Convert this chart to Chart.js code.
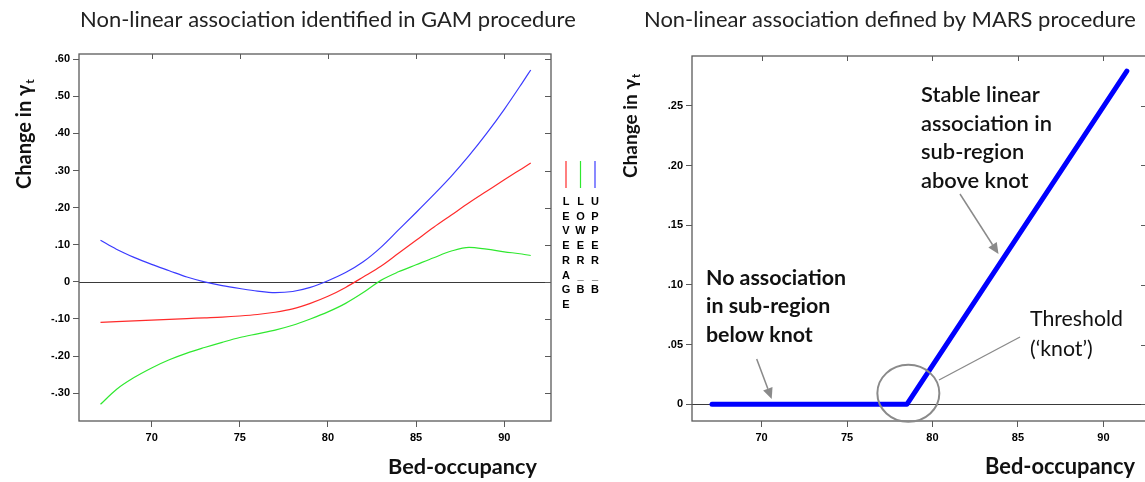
<!DOCTYPE html>
<html><head><meta charset="utf-8">
<script src="https://cdn.jsdelivr.net/npm/chart.js@4.4.1/dist/chart.umd.min.js"></script>
<style>
html,body{margin:0;padding:0;background:#fff;overflow:hidden;width:1145px;height:482px;position:relative}
#c1{position:absolute;left:0;top:0}
#c2{position:absolute;left:615px;top:0}
</style></head><body>
<canvas id="c1" width="615" height="482"></canvas>
<canvas id="c2" width="540" height="482"></canvas>
<script>
// ---------- data ----------
const bedOccupancy = [67.1,68,69,70,71,72,73,74,75,76,77,78,79,80,81,82,83,84,85,86,87,88,89,90,91,91.5];
const leverage = [-0.109,-0.107,-0.105,-0.103,-0.101,-0.099,-0.097,-0.095,-0.092,-0.088,-0.082,-0.073,-0.058,-0.039,-0.015,0.013,0.042,0.077,0.112,0.147,0.180,0.213,0.244,0.275,0.305,0.320];
const lowerB = [-0.330,-0.290,-0.258,-0.232,-0.210,-0.192,-0.177,-0.163,-0.150,-0.140,-0.130,-0.117,-0.100,-0.081,-0.058,-0.029,0.004,0.027,0.046,0.065,0.083,0.093,0.088,0.081,0.075,0.071];
const upperB = [0.112,0.088,0.066,0.047,0.030,0.013,0.000,-0.010,-0.018,-0.025,-0.029,-0.026,-0.015,0.003,0.025,0.054,0.093,0.140,0.187,0.235,0.285,0.340,0.400,0.465,0.535,0.571];
const gamXTicks = [70,75,80,85,90];
const gamYTicks = [-0.3,-0.2,-0.1,0,0.1,0.2,0.3,0.4,0.5,0.6];
const gamYLabels = ['-.30','-.20','-.10','0','.10','.20','.30','.40','.50','.60'];
const legendNames = ['LEVERAGE','LOWER_B','UPPER_B'];

const marsX = [67.1,78.5,91.37];
const marsY = [0,0,0.279];
const marsXTicks = [70,75,80,85,90];
const marsYTicks = [0,0.05,0.1,0.15,0.2,0.25];
const marsYLabels = ['0','.05','.10','.15','.20','.25'];

const titles = ['Non-linear association identified in GAM procedure','Non-linear association defined by MARS procedure'];
const xTitle = 'Bed-occupancy';
const yTitle = 'Change in \u03B3';
const ySub = 't';
const noteBelow = ['No association','in sub-region','below knot'];
const noteAbove = ['Stable linear','association in','sub-region','above knot'];
const noteKnot = ['Threshold','(\u2018knot\u2019)'];

// ---------- style ----------
const TICKFONT = "'Liberation Sans Narrow','Liberation Sans',Arial,sans-serif";
const TEXTFONT = "Lato,'Open Sans',sans-serif";
const RED = '#ff2b2b', GREEN = '#2fe82f', BLUE = '#3b3bff';

Chart.defaults.animation = false;
Chart.defaults.devicePixelRatio = 1;

function pts(xs, ys){ return xs.map((x,i)=>({x:x,y:ys[i]})); }

function fitSize(ctx, text, weight, targetW){
  ctx.font = weight + ' 20px ' + TEXTFONT;
  const w = ctx.measureText(text).width;
  return 20 * targetW / w;
}

function drawArrow(ctx, x1,y1,x2,y2){
  ctx.save();
  ctx.strokeStyle = '#8a8a8a'; ctx.fillStyle = '#8a8a8a'; ctx.lineWidth = 1.5;
  const a = Math.atan2(y2-y1, x2-x1), L = 11, W = 5;
  const bx = x2 - L*Math.cos(a), by = y2 - L*Math.sin(a);
  ctx.beginPath(); ctx.moveTo(x1,y1); ctx.lineTo(bx,by); ctx.stroke();
  ctx.beginPath(); ctx.moveTo(x2,y2);
  ctx.lineTo(bx + W*Math.sin(a), by - W*Math.cos(a));
  ctx.lineTo(bx - W*Math.sin(a), by + W*Math.cos(a));
  ctx.closePath(); ctx.fill();
  ctx.restore();
}

function frame(chart, ctx, xTicks, yTicks){
  const a = chart.chartArea, xs = chart.scales.x, ys = chart.scales.y;
  ctx.save();
  ctx.strokeStyle = '#5a5a5a'; ctx.lineWidth = 1.3;
  ctx.strokeRect(a.left, a.top, a.right-a.left, a.bottom-a.top);
  ctx.lineWidth = 1;
  xTicks.forEach(v=>{ const px = Math.round(xs.getPixelForValue(v))+0.5;
    ctx.beginPath(); ctx.moveTo(px,a.top); ctx.lineTo(px,a.top+5); ctx.stroke(); });
  yTicks.forEach(v=>{ const py = Math.round(ys.getPixelForValue(v))+0.5;
    ctx.beginPath(); ctx.moveTo(a.right,py); ctx.lineTo(a.right-6,py); ctx.stroke(); });
  ctx.restore();
}

function zeroLine(chart, ctx){
  const a = chart.chartArea, py = Math.round(chart.scales.y.getPixelForValue(0))+0.5;
  ctx.save(); ctx.strokeStyle = '#3a3a3a'; ctx.lineWidth = 1;
  ctx.beginPath(); ctx.moveTo(a.left,py); ctx.lineTo(a.right,py); ctx.stroke(); ctx.restore();
}

function yAxisTitle(ctx, cx, bottomY, size){
  ctx.save();
  ctx.translate(cx, bottomY); ctx.rotate(-Math.PI/2);
  ctx.fillStyle = '#111'; ctx.textBaseline = 'middle'; ctx.textAlign = 'left';
  ctx.font = 'bold ' + size + 'px ' + TEXTFONT;
  ctx.fillText(yTitle, 0, 0);
  const w = ctx.measureText(yTitle).width;
  ctx.font = 'bold ' + Math.round(size*0.6) + 'px ' + TEXTFONT;
  ctx.fillText(ySub, w + 1, size*0.28);
  ctx.restore();
}

function lines(ctx, arr, left, cy0, step, size, weight, color){
  ctx.save();
  ctx.font = weight + ' ' + size.toFixed(2) + 'px ' + TEXTFONT;
  ctx.fillStyle = color || '#111'; ctx.textBaseline = 'middle'; ctx.textAlign = 'left';
  arr.forEach((t,i)=>ctx.fillText(t, left, cy0 + i*step));
  ctx.restore();
}

function scaleCommon(min, max, ticksArr, labels){
  return {
    type: 'linear', min: min, max: max,
    afterBuildTicks: s => { s.ticks = ticksArr.map(v=>({value:v})); },
    ticks: { autoSkip:false, maxRotation:0, color:'#000', padding:3,
      font:{family:TICKFONT, size:11, weight:'bold'},
      callback: (v)=>{ const i = ticksArr.indexOf(v); return labels[i]; } },
    grid: { drawOnChartArea:false, tickLength:6, color:'#5a5a5a', tickColor:'#5a5a5a' },
    border: { display:false }
  };
}

// ---------- GAM chart ----------
const gamX = scaleCommon(65.88, 92.65, gamXTicks, gamXTicks.map(String));
gamX.afterFit = s => { s.height = 61; };
gamX.ticks.padding = 4;
const gamY = scaleCommon(-0.375, 0.614, gamYTicks, gamYLabels);
gamY.afterFit = s => { s.width = 79; };

new Chart(document.getElementById('c1'), {
  type: 'line',
  data: { datasets: [
    {label: legendNames[0], data: pts(bedOccupancy, leverage), borderColor: RED},
    {label: legendNames[1], data: pts(bedOccupancy, lowerB), borderColor: GREEN},
    {label: legendNames[2], data: pts(bedOccupancy, upperB), borderColor: BLUE}
  ].map(d=>Object.assign(d,{borderWidth:1.2, pointRadius:0, fill:false, cubicInterpolationMode:'monotone'}))},
  options: {
    responsive:false, maintainAspectRatio:false,
    layout:{padding:{top:54, right:64, left:0, bottom:0}},
    plugins:{legend:{display:false}, tooltip:{enabled:false}},
    scales:{x:gamX, y:gamY}
  },
  plugins:[{
    id:'gamDeco',
    beforeDatasetsDraw(chart){ zeroLine(chart, chart.ctx); },
    afterDraw(chart){
      const ctx = chart.ctx;
      frame(chart, ctx, gamXTicks, gamYTicks);
      lines(ctx, [titles[0]], 80, 20, 0, fitSize(ctx, titles[0], 'normal', 496), 'normal', '#222');
      lines(ctx, [xTitle], 388, 467, 0, fitSize(ctx, xTitle, 'bold', 149), 'bold');
      yAxisTitle(ctx, 25, 189, 20);
      const cols = [RED, GREEN, BLUE], xs = [566, 580.5, 595];
      legendNames.forEach((name, i)=>{
        ctx.save();
        ctx.strokeStyle = cols[i]; ctx.lineWidth = 1.2;
        ctx.beginPath(); ctx.moveTo(xs[i], 161); ctx.lineTo(xs[i], 188); ctx.stroke();
        ctx.fillStyle = '#000'; ctx.textAlign = 'center'; ctx.textBaseline = 'middle';
        ctx.font = 'bold 11px ' + TICKFONT;
        name.split('').forEach((ch, k)=>{ ctx.fillText(ch, xs[i], 202 + k*14.7); });
        ctx.restore();
      });
    }
  }]
});

// ---------- MARS chart ----------
const marsXs = scaleCommon(65.93, 92.55, marsXTicks, marsXTicks.map(String));
marsXs.afterFit = s => { s.height = 61; };
marsXs.ticks.padding = 4;
const marsYs = scaleCommon(-0.014, 0.2917, marsYTicks, marsYLabels);
marsYs.afterFit = s => { s.width = 77; };

new Chart(document.getElementById('c2'), {
  type: 'line',
  data: { datasets: [
    {label:'MARS', data: pts(marsX, marsY), borderColor:'#0000ff', borderWidth:5, pointRadius:0, fill:false,
     tension:0, borderCapStyle:'round', borderJoinStyle:'round'}
  ]},
  options: {
    responsive:false, maintainAspectRatio:false,
    layout:{padding:{top:56, right:8, left:0, bottom:0}},
    plugins:{legend:{display:false}, tooltip:{enabled:false}},
    scales:{x:marsXs, y:marsYs}
  },
  plugins:[{
    id:'marsDeco',
    beforeDatasetsDraw(chart){ zeroLine(chart, chart.ctx); },
    afterDraw(chart){
      const ctx = chart.ctx, o = 615;
      frame(chart, ctx, marsXTicks, marsYTicks);
      lines(ctx, [titles[1]], 644-o, 20, 0, fitSize(ctx, titles[1], 'normal', 492), 'normal', '#222');
      lines(ctx, [xTitle], 985-o, 467, 0, fitSize(ctx, xTitle, 'bold', 150), 'bold');
      yAxisTitle(ctx, 631-o, 178, 19);
      const kx = chart.scales.x.getPixelForValue(marsX[1]), ky = chart.scales.y.getPixelForValue(marsY[1]);
      ctx.save(); ctx.strokeStyle = '#8a8a8a'; ctx.lineWidth = 2;
      ctx.beginPath(); ctx.ellipse(kx+1.5, ky-11, 31, 28.5, 0, 0, Math.PI*2); ctx.stroke();
      ctx.lineWidth = 1.3;
      ctx.beginPath(); ctx.moveTo(939-o, 380); ctx.lineTo(1020-o, 337); ctx.stroke();
      ctx.restore();
      lines(ctx, noteBelow, 706-o, 278, 28.5, fitSize(ctx, noteBelow[0], 'bold', 140), 'bold');
      lines(ctx, noteAbove, 921-o, 95, 28.6, fitSize(ctx, noteAbove[1], '600', 131), '600');
      lines(ctx, noteKnot, 1030-o, 319, 30, fitSize(ctx, noteKnot[0], 'normal', 93), 'normal');
      drawArrow(ctx, 756.7-o, 359, 771.7-o, 399);
      drawArrow(ctx, 960-o, 194, 998.5-o, 254);
    }
  }]
});
</script>
</body></html>
